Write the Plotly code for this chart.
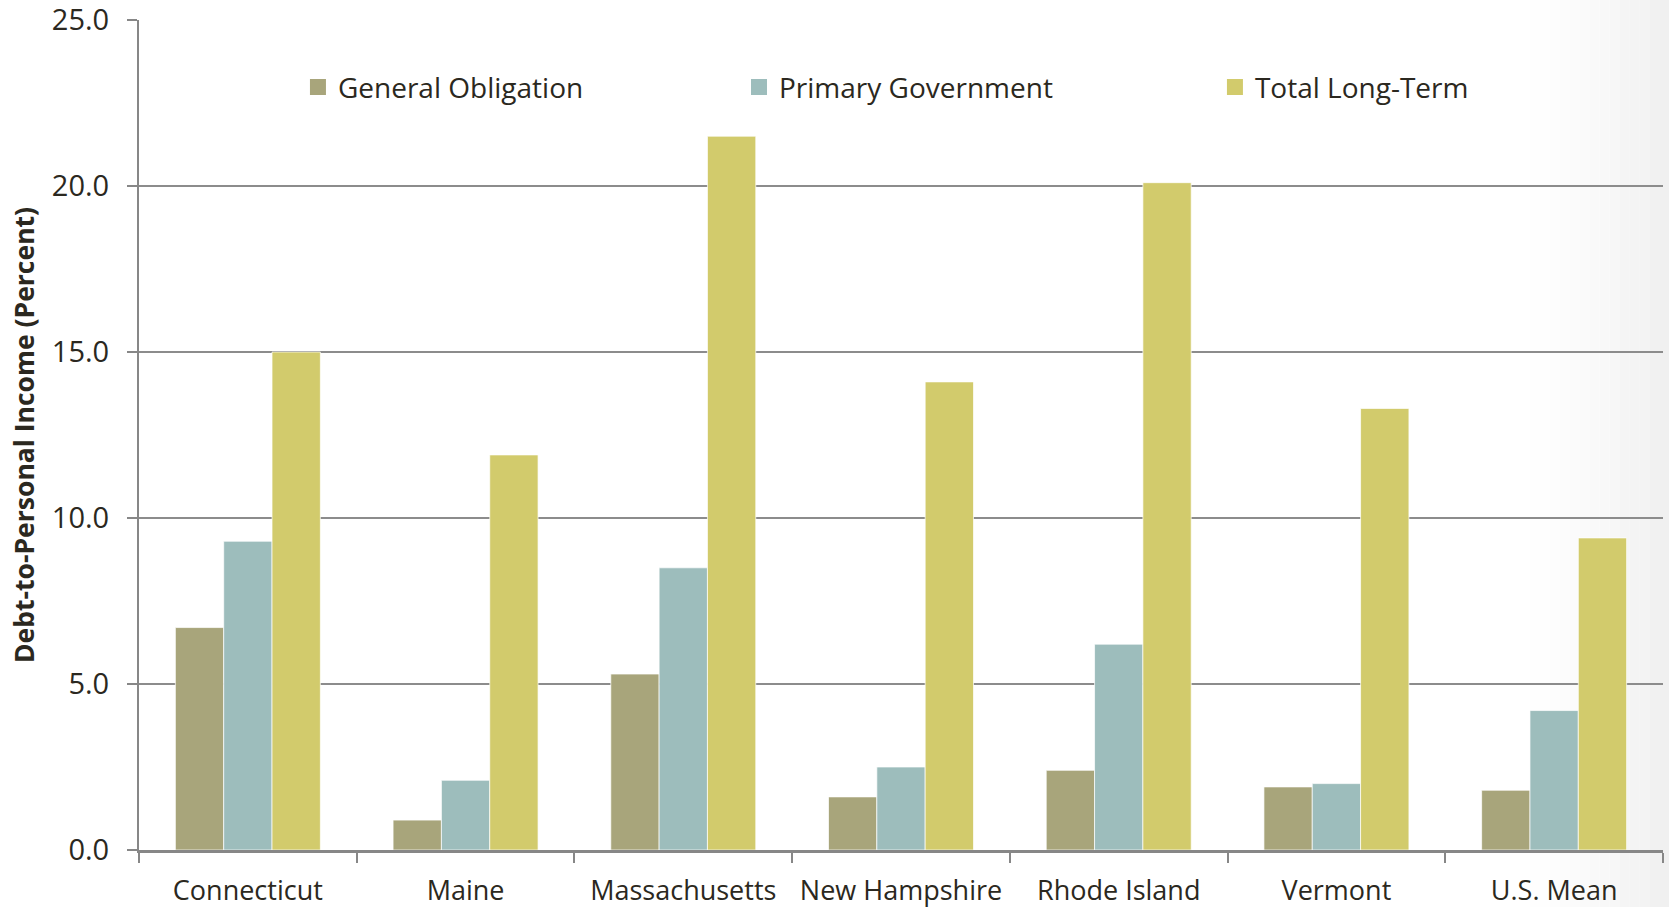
import plotly.graph_objects as go

categories = ["Connecticut", "Maine", "Massachusetts", "New Hampshire",
              "Rhode Island", "Vermont", "U.S. Mean"]
general_obligation = [6.7, 0.9, 5.3, 1.6, 2.4, 1.9, 1.8]
primary_government = [9.3, 2.1, 8.5, 2.5, 6.2, 2.0, 4.2]
total_long_term = [15.0, 11.9, 21.5, 14.1, 20.1, 13.3, 9.4]
y_ticks = [0, 5, 10, 15, 20, 25]
y_tick_labels = ["0.0", "5.0", "10.0", "15.0", "20.0", "25.0"]

FONT = "Open Sans"
TXT = "#2b2820"

fig = go.Figure()
series = [
    ("General Obligation", general_obligation, "#A8A57B", "legend"),
    ("Primary Government", primary_government, "#9DBDBC", "legend2"),
    ("Total Long-Term", total_long_term, "#D2CB6C", "legend3"),
]
for name, vals, col, lg in series:
    fig.add_trace(go.Bar(
        x=categories, y=vals, name=name, legendgroup=name, showlegend=False,
        marker=dict(color=col, line=dict(color="rgba(255,255,255,0.7)", width=1)),
    ))
# legend entries (square swatches)
for name, vals, col, lg in series:
    fig.add_trace(go.Scatter(
        x=[None], y=[None], mode="markers", name=name, legendgroup=name,
        legend=lg, showlegend=True,
        marker=dict(symbol="square", size=17, color=col),
    ))

# subtle gradient on the right side of the slide
shapes = []
n = 14
x_start, x_end = 1530, 1669
for i in range(n):
    xa = x_start + (x_end - x_start) * i / n
    xb = x_start + (x_end - x_start) * (i + 1) / n
    g = int(255 - 15 * ((i + 1) / n) ** 1.5)
    shapes.append(dict(
        type="rect", xref="paper", yref="paper",
        x0=(xa - 139) / 1524, x1=(xb - 139) / 1524,
        y0=-0.08, y1=1.03, line=dict(width=0),
        fillcolor=f"rgb({g},{g},{g})", layer="below",
    ))

leg_common = dict(orientation="h", yanchor="middle", xanchor="left",
                  bgcolor="rgba(0,0,0,0)", itemsizing="trace",
                  font=dict(family=FONT, size=28, color=TXT))

fig.update_layout(
    width=1669, height=907,
    margin=dict(l=139, r=6, t=20, b=57),
    paper_bgcolor="white", plot_bgcolor="rgba(0,0,0,0)",
    barmode="group", bargap=0.334, bargroupgap=0,
    font=dict(family=FONT, color=TXT),
    shapes=shapes,
    showlegend=True,
    legend=dict(x=0.1043, y=0.919, **leg_common),
    legend2=dict(x=0.3937, y=0.919, **leg_common),
    legend3=dict(x=0.706, y=0.919, **leg_common),
    xaxis=dict(
        type="category", showline=True, linecolor="#878787", linewidth=3,
        ticks="outside", tickson="boundaries", ticklen=10, tickwidth=2,
        tickcolor="#878787", ticklabelstandoff=15, automargin=False,
        tickangle=0, ticklabeloverflow="allow",
        tickfont=dict(family=FONT, size=27, color=TXT),
        showgrid=False,
    ),
    yaxis=dict(
        range=[0, 25], tickvals=y_ticks, ticktext=y_tick_labels,
        showline=True, linecolor="#878787", linewidth=2,
        ticks="outside", ticklen=10, tickwidth=2, tickcolor="#878787",
        ticklabelstandoff=12, automargin=False, ticklabeloverflow="allow",
        tickfont=dict(family=FONT, size=29, color=TXT),
        showgrid=True, gridcolor="#8c8c8c", gridwidth=2,
        zeroline=False,
        title=dict(text="<b>Debt-to-Personal Income (Percent)</b>",
                   font=dict(family=FONT, size=26.5, color=TXT), standoff=10),
    ),
)

fig.write_html("out.html")
